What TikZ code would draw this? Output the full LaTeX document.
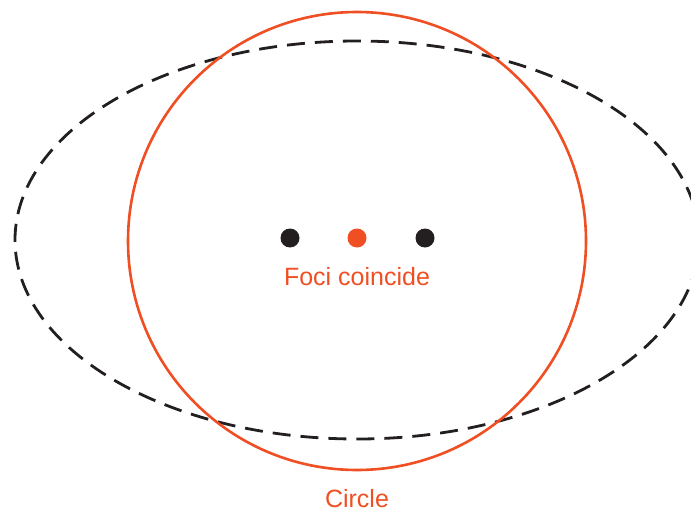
\documentclass[tikz,border=0pt]{standalone}
\usepackage{fontspec}
\setmainfont{Liberation Sans}
\definecolor{accent}{HTML}{F04E23}
\definecolor{ink}{HTML}{231F20}
\begin{document}
\begin{tikzpicture}[x=1pt,y=-1pt,
  dotk/.style={circle,fill=ink,inner sep=0pt,minimum size=19pt},
  dotr/.style={circle,fill=accent,inner sep=0pt,minimum size=19pt},
  lbl/.style={text=accent,font=\fontsize{25}{30}\selectfont,inner sep=0pt}]
\useasboundingbox (0,0) rectangle (691,511);
\begin{scope}
\clip (0,0) rectangle (691,511);
\draw[ink,line width=2.8pt,dash pattern=on 18pt off 10pt,dash phase=5pt] (357,240) ellipse [x radius=342, y radius=199];
\end{scope}
\draw[accent,line width=2.6pt] (357,241) circle [radius=229];
\node[dotk] (f1) at (290,238) {};
\node[dotr] (c) at (357,238) {};
\node[dotk] (f2) at (425,238) {};
\node[lbl,anchor=base] (t1) at (357,285) {Foci coincide};
\node[lbl,anchor=base] (t2) at (357,507) {Circle};
\end{tikzpicture}
\end{document}
